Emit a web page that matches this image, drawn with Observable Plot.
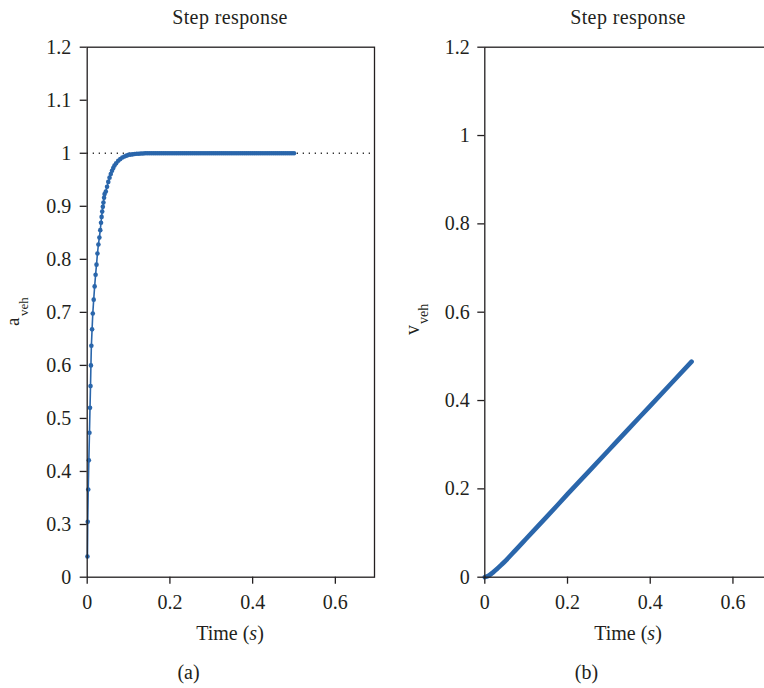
<!DOCTYPE html>
<html><head><meta charset="utf-8">
<script src="https://cdn.jsdelivr.net/npm/d3@7"></script>
<script src="https://cdn.jsdelivr.net/npm/@observablehq/plot@0.6"></script>
<style>
html,body{margin:0;padding:0;background:#fff;overflow:hidden}
#fig{position:relative;width:764px;height:688px;overflow:hidden;font-family:"Liberation Serif",serif;color:#231f20}
#fig svg{position:absolute;top:0}
.lbl{position:absolute;line-height:0;white-space:nowrap;font-size:20px;transform:translateX(-50%)}
.rot{position:absolute;line-height:0;white-space:nowrap;transform-origin:0 0;transform:rotate(-90deg)}
</style></head><body><div id="fig"></div>
<script>
// ---- data ----
const xTicks = [0, 0.2, 0.4, 0.6];
const aTicks = [0, 0.3, 0.4, 0.5, 0.6, 0.7, 0.8, 0.9, 1, 1.1, 1.2];
const vTicks = [0, 0.2, 0.4, 0.6, 0.8, 1, 1.2];

// acceleration step response (a_veh)
const aTime = [0.0006, 0.0013, 0.0025, 0.004, 0.0055, 0.0068, 0.008, 0.009, 0.0101, 0.0118,
  0.0135, 0.0157, 0.018, 0.0203, 0.0225, 0.0248, 0.0271, 0.0294, 0.0316, 0.0334,
  0.0348, 0.0363, 0.0378, 0.0393, 0.0408, 0.042,
  0.045, 0.048, 0.051, 0.054, 0.057, 0.06, 0.063, 0.066, 0.07, 0.075, 0.08, 0.085, 0.09, 0.095, 0.1,
  0.105, 0.11, 0.115, 0.12, 0.125, 0.13, 0.135, 0.14, 0.145, 0.15, 0.155, 0.16, 0.165, 0.17, 0.175,
  0.18, 0.185, 0.19, 0.195, 0.2, 0.205, 0.21, 0.215, 0.22, 0.225, 0.23, 0.235, 0.24, 0.245, 0.25,
  0.255, 0.26, 0.265, 0.27, 0.275, 0.28, 0.285, 0.29, 0.295, 0.3, 0.305, 0.31, 0.315, 0.32, 0.325,
  0.33, 0.335, 0.34, 0.345, 0.35, 0.355, 0.36, 0.365, 0.37, 0.375, 0.38, 0.385, 0.39, 0.395, 0.4,
  0.405, 0.41, 0.415, 0.42, 0.425, 0.43, 0.435, 0.44, 0.445, 0.45, 0.455, 0.46, 0.465, 0.47, 0.475,
  0.48, 0.485, 0.49, 0.495, 0.5];
const aValue = [0.118, 0.305, 0.366, 0.421, 0.473, 0.52, 0.561, 0.6, 0.637, 0.668,
  0.698, 0.724, 0.749, 0.771, 0.79, 0.811, 0.828, 0.841, 0.855, 0.869,
  0.88, 0.89, 0.899, 0.907, 0.916, 0.923,
  0.928, 0.937, 0.946, 0.954, 0.961, 0.967, 0.972, 0.977, 0.981, 0.986, 0.989, 0.992, 0.994, 0.9955, 0.997,
  0.9975, 0.998, 0.9985, 0.999, 0.9992, 0.9995, 0.9997, 1, 1, 1, 1, 1, 1, 1, 1,
  1, 1, 1, 1, 1, 1, 1, 1, 1, 1, 1, 1, 1, 1, 1,
  1, 1, 1, 1, 1, 1, 1, 1, 1, 1, 1, 1, 1, 1, 1,
  1, 1, 1, 1, 1, 1, 1, 1, 1, 1, 1, 1, 1, 1, 1,
  1, 1, 1, 1, 1, 1, 1, 1, 1, 1, 1, 1, 1, 1, 1,
  1, 1, 1, 1, 1];

// velocity step response (v_veh)
const vTime = [0, 0.01, 0.02, 0.03, 0.04, 0.05, 0.075, 0.1, 0.15, 0.2, 0.25, 0.3, 0.35, 0.4, 0.45, 0.5];
const vValue = [0, 0.004, 0.011, 0.019, 0.028, 0.037, 0.062, 0.087, 0.137, 0.188, 0.238, 0.288, 0.338, 0.388, 0.438, 0.488];

const aData = aTime.map((t, i) => ({t, v: aValue[i]}));
const vData = vTime.map((t, i) => ({t, v: vValue[i]}));

const blue = "#2a66ab";
const ink = "#231f20";
const fmt = d => String(d);
const style = {fontFamily: "Liberation Serif", fontSize: "20px", color: ink, background: "transparent", overflow: "visible"};

const left = Plot.plot({
  width: 400, height: 688,
  marginLeft: 86.7, marginRight: 26, marginTop: 46.7, marginBottom: 111.3,
  x: {type: "linear", domain: [0, 0.7], range: [86.7, 376.2], label: null},
  y: {type: "linear", domain: [0, 0.3, 1.2], range: [576.7, 524, 46.7], label: null},
  style,
  marks: [
    Plot.ruleY([1], {stroke: "#333", strokeWidth: 1.3, strokeDasharray: "1.3,4.7"}),
    Plot.line(aData, {x: "t", y: "v", stroke: blue, strokeWidth: 1.6}),
    Plot.dot(aData, {x: "t", y: "v", r: 2.3, fill: blue}),
    Plot.frame({stroke: ink, strokeWidth: 1.3}),
    Plot.axisX({ticks: xTicks, tickSize: 7, tickPadding: 11, tickFormat: fmt, label: null, strokeWidth: 1.3}),
    Plot.axisY({ticks: aTicks, tickSize: 7, tickPadding: 9, tickFormat: fmt, label: null, strokeWidth: 1.3})
  ]
});

const right = Plot.plot({
  width: 380, height: 688,
  marginLeft: 84.3, marginRight: 6.6, marginTop: 46.7, marginBottom: 111.3,
  x: {type: "linear", domain: [0, 0.7], range: [84.3, 373.8], label: null},
  y: {type: "linear", domain: [0, 1.2], label: null},
  style,
  marks: [
    Plot.line(vData, {x: "t", y: "v", stroke: blue, strokeWidth: 4.6, strokeLinecap: "round", curve: "monotone-x"}),
    Plot.frame({stroke: ink, strokeWidth: 1.3}),
    Plot.axisX({ticks: xTicks, tickSize: 7, tickPadding: 11, tickFormat: fmt, label: null, strokeWidth: 1.3}),
    Plot.axisY({ticks: vTicks, tickSize: 7, tickPadding: 8, tickFormat: fmt, label: null, strokeWidth: 1.3})
  ]
});

const fig = document.getElementById("fig");
left.style.left = "0px";
right.style.left = "400px";
fig.appendChild(left);
fig.appendChild(right);

// text labels (baseline = top + 0.3375em with line-height 0)
function label(html, cx, baseline, size = 20, extra = "") {
  const d = document.createElement("div");
  d.className = "lbl";
  d.style.left = cx + "px";
  d.style.top = (baseline - 0.3375 * size) + "px";
  d.style.fontSize = size + "px";
  if (extra) d.style.cssText += extra;
  d.innerHTML = html;
  fig.appendChild(d);
}
function rot(text, baselineX, bottomY, size) {
  const d = document.createElement("div");
  d.className = "rot";
  d.style.fontSize = size + "px";
  d.style.left = (baselineX - 0.3375 * size) + "px";
  d.style.top = bottomY + "px";
  d.textContent = text;
  fig.appendChild(d);
}
label("Step response", 230, 23.3, 20, "letter-spacing:0.4px");
label("Step response", 628, 23.3, 20, "letter-spacing:0.4px");
label("Time (<i>s</i>)", 230, 640);
label("Time (<i>s</i>)", 628, 640);
label("(a)", 188.5, 678.5);
label("(b)", 586.5, 678.5);
rot("a", 19, 326, 19);
rot("veh", 28.5, 316, 13);
rot("v", 418.5, 335, 20);
rot("veh", 428.5, 324, 14);
</script></body></html>
